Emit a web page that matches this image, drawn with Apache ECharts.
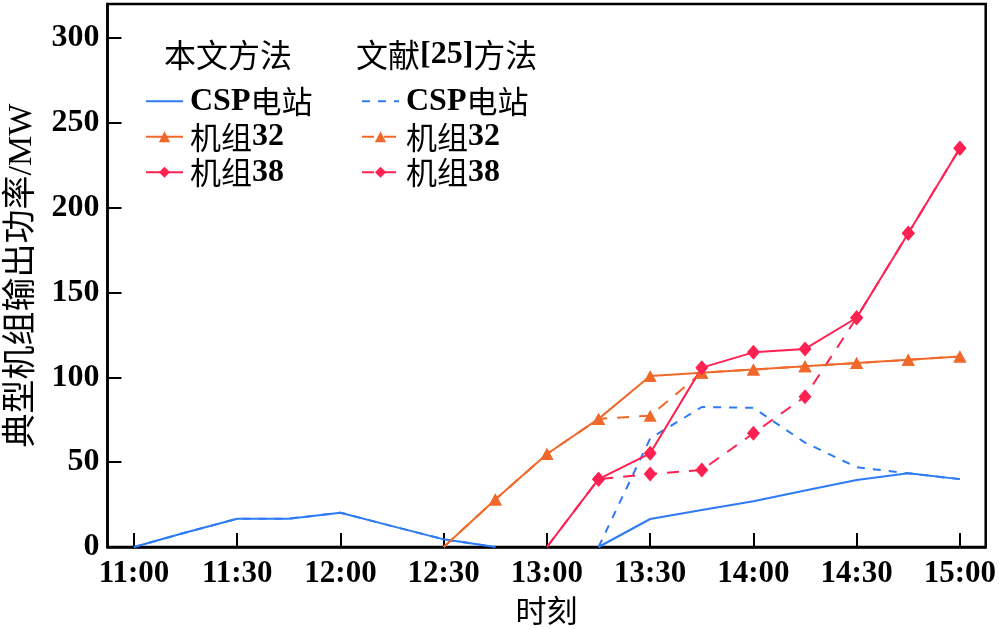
<!DOCTYPE html>
<html>
<head>
<meta charset="utf-8">
<script src="https://cdn.jsdelivr.net/npm/echarts@6/dist/echarts.min.js"></script>
<style>html,body{margin:0;padding:0;background:#fff}#c{width:1000px;height:629px}</style>
</head>
<body>
<div id="c"></div>
<script>
// ---- data ----
const times = ['11:00','11:15','11:30','11:45','12:00','12:15','12:30','12:45','13:00','13:15','13:30','13:45','14:00','14:15','14:30','14:45','15:00'];
const xTickLabels = ['11:00','11:30','12:00','12:30','13:00','13:30','14:00','14:30','15:00'];
const yTicks = [0, 50, 100, 150, 200, 250, 300];
const cspOurs    = [0, 8.5, 16.7, 16.7, 20.2, 12.3, 4.5, 0, null, 0, 16.5, 21.8, 27, 33.3, 39.5, 43.4, 40];
const unit32Ours = [null, null, null, null, null, null, 0, 28, 54.8, 75.5, 100.8, 102.7, 104.6, 106.5, 108.4, 110.3, 112.3];
const unit38Ours = [null, null, null, null, null, null, null, null, 0, 40, 55.2, 105.7, 114.7, 116.7, 135.1, 184.9, 235];
const cspRef     = [0, 8.5, 16.7, 16.7, 20.2, 12.3, 4.5, 0, null, 0, 64, 82.5, 82, 61.5, 47, 43.4, 40];
const unit32Ref  = [null, null, null, null, null, null, 0, 28, 54.8, 75.5, 77.4, 102.7, 104.6, 106.5, 108.4, 110.3, 112.3];
const unit38Ref  = [null, null, null, null, null, null, null, null, 0, 40, 43, 45.4, 67, 88.6, 135.1, 184.9, 235];
const headerOurs = '本文方法';
const headerRef = '文献[25]方法';
const yTitle = '典型机组输出功率/MW';
const xTitle = '时刻';

// ---- helpers ----
const toMin = t => { const [h, m] = t.split(':').map(Number); return h * 60 + m; };
const xs = times.map(toMin);
const xTickVals = xTickLabels.map(toMin);
function build(vals, withSymbol) {
  return vals.map((v, i) => {
    if (v === null) return [xs[i], null];
    if (withSymbol && v === 0) return { value: [xs[i], v], symbol: 'none' };
    return [xs[i], v];
  });
}
const BLUE = '#2f7bf6', ORANGE = '#f0692a', RED = '#fe2151';
const SERIF = "'Liberation Serif', serif";
const CJK = "'Noto Sans CJK SC', sans-serif";
const FONT = "'Liberation Serif', 'Noto Sans CJK SC', serif";

function richify(s) {
  // split into latin (bold serif) and CJK runs
  let out = '', cur = '', curType = null;
  for (const ch of s) {
    const t = /[\u3000-\u9fff]/.test(ch) ? 'c' : 'b';
    if (t !== curType && cur) { out += '{' + curType + '|' + cur + '}'; cur = ''; }
    curType = t; cur += ch;
  }
  if (cur) out += '{' + curType + '|' + cur + '}';
  return out;
}

function lineSeries(name, vals, color, dashed, symbol, size, dash) {
  return {
    name: name, type: 'line', data: build(vals, !!symbol),
    connectNulls: false,
    symbol: symbol || 'none', symbolSize: size, showSymbol: !!symbol,
    lineStyle: { color: color, width: 2, type: dashed ? dash : 'solid' },
    itemStyle: { color: color },
    emphasis: { disabled: true },
    animation: false, z: dashed ? 2 : 3
  };
}

const richStyles = {
  b: { fontFamily: SERIF, fontWeight: 'bold', fontSize: 32, color: '#000', lineHeight: 35.5 },
  c: { fontFamily: CJK, fontSize: 31, color: '#000', lineHeight: 35.5 }
};
const headerRich = {
  b: { fontFamily: SERIF, fontWeight: 'bold', fontSize: 32, color: '#000' },
  c: { fontFamily: CJK, fontSize: 32, color: '#000' }
};

const chart = echarts.init(document.getElementById('c'), null, { renderer: 'canvas' });
const legendCommon = {
  orient: 'vertical', itemWidth: 37, itemHeight: 14, itemGap: 0,
  textStyle: { fontSize: 32, color: '#000', lineHeight: 35.5, padding: [0, 0, 0, 2], rich: richStyles },
  formatter: n => richify(n.split('|')[1]),
  selectedMode: false
};
function legendData(prefix) {
  return [
    { name: prefix + '|CSP电站', itemStyle: { opacity: 0 } },
    { name: prefix + '|机组32' },
    { name: prefix + '|机组38' }
  ];
}
chart.setOption({
  animation: false,
  backgroundColor: '#fff',
  grid: { left: 107.5, right: 14.3, top: 4, bottom: 82, containLabel: false, outerBoundsMode: 'none', show: true, borderColor: '#000', borderWidth: 2.5, backgroundColor: 'transparent' },
  xAxis: {
    type: 'value', min: 652.3, max: 907.5,
    axisLine: { show: true, lineStyle: { color: '#000', width: 2.5 } },
    axisTick: { show: true, inside: true, length: 14, customValues: xTickVals, lineStyle: { color: '#000', width: 2 } },
    axisLabel: { customValues: xTickVals, formatter: v => { const h = Math.floor(v / 60), m = v % 60; return h + ':' + (m < 10 ? '0' : '') + m; }, fontFamily: SERIF, fontWeight: 'bold', fontSize: 31, color: '#000', margin: 11 },
    splitLine: { show: false },
    name: xTitle, nameLocation: 'middle', nameGap: 48,
    nameTextStyle: { fontFamily: CJK, fontSize: 31, color: '#000' }
  },
  yAxis: {
    type: 'value', min: 0, max: 320,
    axisLine: { show: true, lineStyle: { color: '#000', width: 2.5 } },
    axisTick: { show: true, inside: true, length: 14, customValues: yTicks, lineStyle: { color: '#000', width: 2 } },
    axisLabel: { customValues: yTicks, fontFamily: SERIF, fontWeight: 'bold', fontSize: 32, color: '#000', margin: 8 },
    splitLine: { show: false },
    name: yTitle, nameLocation: 'middle', nameGap: 68, nameRotate: 90,
    nameTextStyle: { fontFamily: FONT, fontSize: 34, color: '#000' }
  },
  legend: [
    Object.assign({}, legendCommon, { left: 140, top: 78.5, data: legendData('a') }),
    Object.assign({}, legendCommon, { left: 356, top: 78.5, data: legendData('b') })
  ],
  graphic: [
    { type: 'text', left: 164, top: 39, style: { text: richify(headerOurs), rich: headerRich, fill: '#000' } },
    { type: 'text', left: 356, top: 39, style: { text: richify(headerRef), rich: headerRich, fill: '#000' } }
  ],
  series: [
    lineSeries('b|CSP电站', cspRef, BLUE, true, null, 0, [8, 8]),
    lineSeries('b|机组32', unit32Ref, ORANGE, true, 'triangle', [13, 12], [12, 10]),
    lineSeries('b|机组38', unit38Ref, RED, true, 'diamond', [13, 15], [12, 10]),
    lineSeries('a|CSP电站', cspOurs, BLUE, false, null, 0),
    lineSeries('a|机组32', unit32Ours, ORANGE, false, 'triangle', [13, 12]),
    lineSeries('a|机组38', unit38Ours, RED, false, 'diamond', [13, 15])
  ]
});
</script>
</body>
</html>
